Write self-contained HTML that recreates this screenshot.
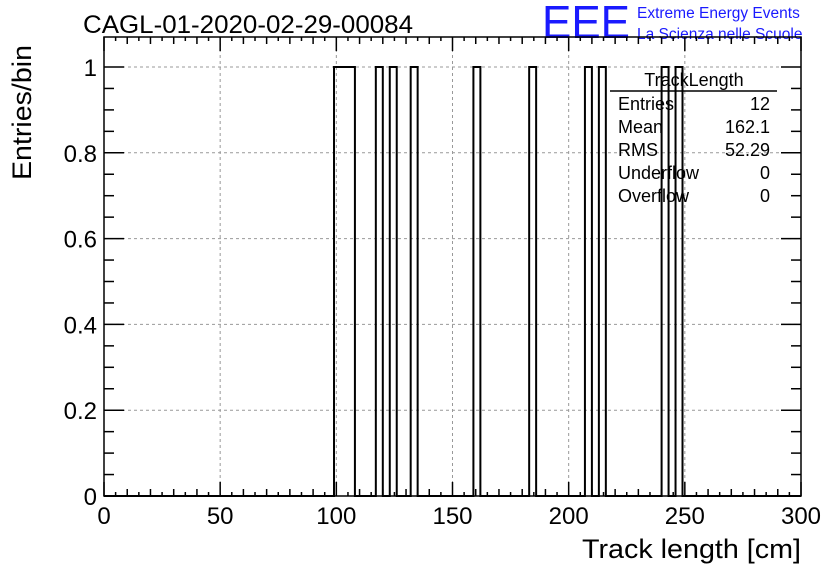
<!DOCTYPE html>
<html><head><meta charset="utf-8"><style>
body{margin:0;background:#fff;}
svg{display:block;font-family:"Liberation Sans",Arial,sans-serif;}
</style></head><body>
<svg id="chart" width="836" height="572" viewBox="0 0 836 572">
<rect width="836" height="572" fill="#fff"/>
<text x="83" y="33" font-size="25" textLength="330" lengthAdjust="spacingAndGlyphs">CAGL-01-2020-02-29-00084</text>
<text x="542" y="38" font-size="46" fill="#1a1aff" textLength="88" lengthAdjust="spacingAndGlyphs">EEE</text>
<text x="637" y="18" font-size="15.5" fill="#1a1aff">Extreme Energy Events</text>
<text x="637" y="39" font-size="15.5" fill="#1a1aff">La Scienza nelle Scuole</text>
<g id="grid"></g>
<g id="hist"></g>
<g id="axes"></g>
<g font-size="18">
<text x="694" y="86" text-anchor="middle">TrackLength</text>
<line x1="610" y1="91" x2="777" y2="91" stroke="#000" stroke-width="1.5"/>
<text x="618" y="110">Entries</text><text x="770" y="110" text-anchor="end">12</text>
<text x="618" y="133">Mean</text><text x="770" y="133" text-anchor="end">162.1</text>
<text x="618" y="156">RMS</text><text x="770" y="156" text-anchor="end">52.29</text>
<text x="618" y="179">Underflow</text><text x="770" y="179" text-anchor="end">0</text>
<text x="618" y="202">Overflow</text><text x="770" y="202" text-anchor="end">0</text>
</g>
<text x="801" y="558" font-size="27" text-anchor="end" textLength="219" lengthAdjust="spacingAndGlyphs">Track length [cm]</text>
<text transform="translate(31,180) rotate(-90)" font-size="27" textLength="135" lengthAdjust="spacingAndGlyphs">Entries/bin</text>
</svg>
<script>
const binStarts = [99,102,105,117,123,132,159,183,207,213,240,246];
const binCounts = [1,1,1,1,1,1,1,1,1,1,1,1];
const xTicks = [0,50,100,150,200,250,300];
const yTicks = [0,0.2,0.4,0.6,0.8,1];
const yTickLabels = ["0","0.2","0.4","0.6","0.8","1"];
const binWidth = 3, xMin = 0, xMax = 300, yMin = 0, yMax = 1;
const L=104,R=801,T=67,B=496;
const X=v=>L+(v-xMin)/(xMax-xMin)*(R-L);
const Y=v=>B-(v-yMin)/(yMax-yMin)*(B-T);
const NS="http://www.w3.org/2000/svg";
function mk(tag,attrs,parent){const e=document.createElementNS(NS,tag);for(const k in attrs)e.setAttribute(k,attrs[k]);parent.appendChild(e);return e;}
const grid=document.getElementById('grid'),hist=document.getElementById('hist'),axes=document.getElementById('axes');
xTicks.forEach(v=>{if(v>xMin&&v<xMax){const l=mk('line',{x1:X(v),x2:X(v),y1:T-30,y2:B,stroke:'#999','stroke-dasharray':'3,3'},grid);

}});
yTicks.forEach(v=>{if(v>yMin){const l=mk('line',{x1:L,x2:R,y1:Y(v),y2:Y(v),stroke:'#999','stroke-dasharray':'3,3'},grid);

}});
const nb=Math.round((xMax-xMin)/binWidth);
const counts=new Array(nb).fill(0);
binStarts.forEach((s,i)=>{counts[Math.round((s-xMin)/binWidth)]+=binCounts[i];});
let d=`M${X(xMin)},${Y(0)}`;
for(let i=0;i<nb;i++){d+=` L${X(xMin+i*binWidth)},${Y(counts[i])} L${X(xMin+(i+1)*binWidth)},${Y(counts[i])}`;}
d+=` L${X(xMax)},${Y(0)}`;
const hp=mk('path',{d:d,fill:'none',stroke:'#000','stroke-width':2},hist);


binStarts.forEach((s,i)=>{const r=mk('rect',{x:X(s),y:Y(binCounts[i]),width:X(s+binWidth)-X(s),height:Y(0)-Y(binCounts[i]),fill:'none',stroke:'none'},hist);

});
const frame=mk('rect',{x:L,y:T-30,width:R-L,height:B-T+30,fill:'none',stroke:'#000','stroke-width':1.5},axes);


for(let v=xMin;v<=xMax;v+=5){const major=v%50===0,mid=v%10===0;const len=major?14:(mid?7:4);
mk('line',{x1:X(v),x2:X(v),y1:B,y2:B-len,stroke:'#000','stroke-width':1.5},axes);
mk('line',{x1:X(v),x2:X(v),y1:T-30,y2:T-30+len,stroke:'#000','stroke-width':1.5},axes);}
xTicks.forEach(v=>{const t=mk('text',{x:X(v),y:B+28,'font-size':24,'text-anchor':'middle'},axes);t.textContent=v;

});
for(let k=0;k<=20;k++){const v=k*0.05;const major=k%4===0;const len=major?20:10;
mk('line',{x1:L,x2:L+len,y1:Y(v),y2:Y(v),stroke:'#000','stroke-width':1.5},axes);
mk('line',{x1:R,x2:R-len,y1:Y(v),y2:Y(v),stroke:'#000','stroke-width':1.5},axes);}
yTicks.forEach((v,i)=>{const t=mk('text',{x:L-7,y:Y(v)+9,'font-size':24,'text-anchor':'end'},axes);t.textContent=yTickLabels[i];

});
</script>
</body></html>
